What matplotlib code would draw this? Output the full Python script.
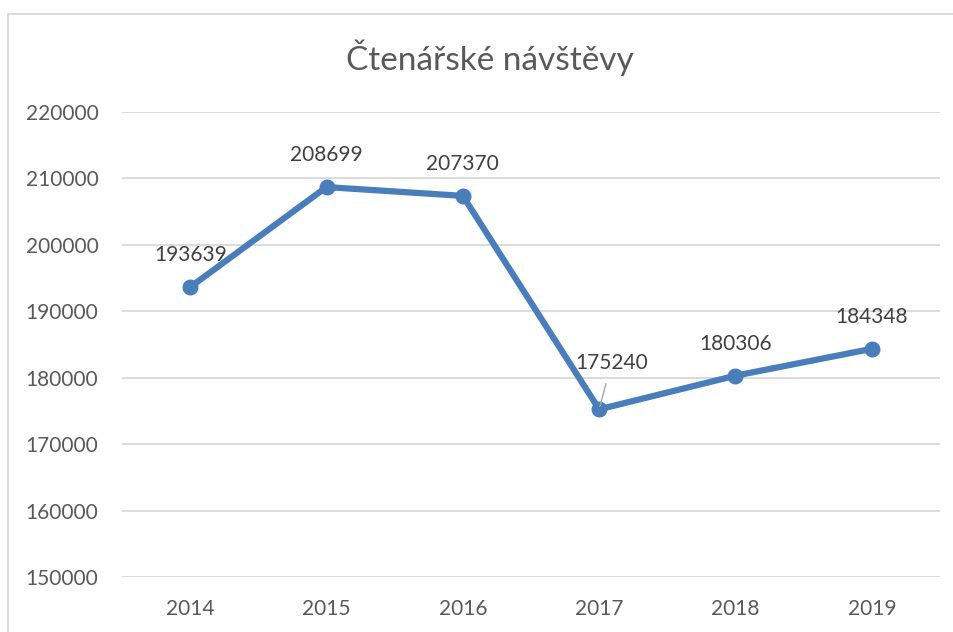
import matplotlib
matplotlib.use('Agg')
import matplotlib.pyplot as plt
from matplotlib.patches import Rectangle

LINE = '#4a7ebb'
GRID = '#d9d9d9'
TEXT = '#595959'

years = ['2014', '2015', '2016', '2017', '2018', '2019']
visits = [193639, 208699, 207370, 175240, 180306, 184348]
yticks = [150000, 160000, 170000, 180000, 190000, 200000, 210000, 220000]

plt.rcParams['font.family'] = ['Lato', 'DejaVu Sans']

W, H = 954, 632
fig = plt.figure(figsize=(W / 100, H / 100), dpi=100)
ax = fig.add_axes([122 / W, 1 - 577 / H, (940 - 122) / W, (577 - 112) / H])

# chart-area border, cropped on the right and bottom like the screenshot
fig.patches.append(Rectangle((8.5 / W, -0.1), 1.2, 1.1 - 13.5 / H,
                             transform=fig.transFigure, fill=False,
                             edgecolor=GRID, linewidth=1.3))

x = list(range(len(years)))
ax.plot(x, visits, color=LINE, linewidth=4.5, marker='o', markersize=10.5,
        solid_capstyle='round', zorder=3)

for i, v in enumerate(visits):
    if i == 3:
        ax.annotate(str(v), xy=(i, v), xytext=(i + 0.09, v + 7000),
                    ha='center', va='center', fontsize=15, color='#404040',
                    arrowprops=dict(arrowstyle='-', color='#a6a6a6', lw=1,
                                    shrinkA=6, shrinkB=2))
    else:
        ax.annotate(str(v), xy=(i, v), xytext=(0, 23), textcoords='offset points',
                    ha='center', va='center', fontsize=15, color='#404040')

ax.set_xlim(-0.5, len(years) - 0.5)
ax.set_ylim(150000, 220000)
ax.set_yticks(yticks)
ax.set_yticklabels([str(t) for t in yticks])
ax.set_xticks(x)
ax.set_xticklabels(years)
ax.tick_params(length=0, labelsize=15, labelcolor=TEXT)
ax.tick_params(axis='y', pad=17)
ax.tick_params(axis='x', pad=16)
ax.grid(axis='y', color=GRID, linewidth=1.3)
ax.set_axisbelow(True)
for s in ax.spines.values():
    s.set_visible(False)

fig.text(490 / W, 1 - 58 / H, 'Čtenářské návštěvy', ha='center', va='center',
         fontsize=24, color=TEXT)

fig.savefig('out.png', dpi=100)
